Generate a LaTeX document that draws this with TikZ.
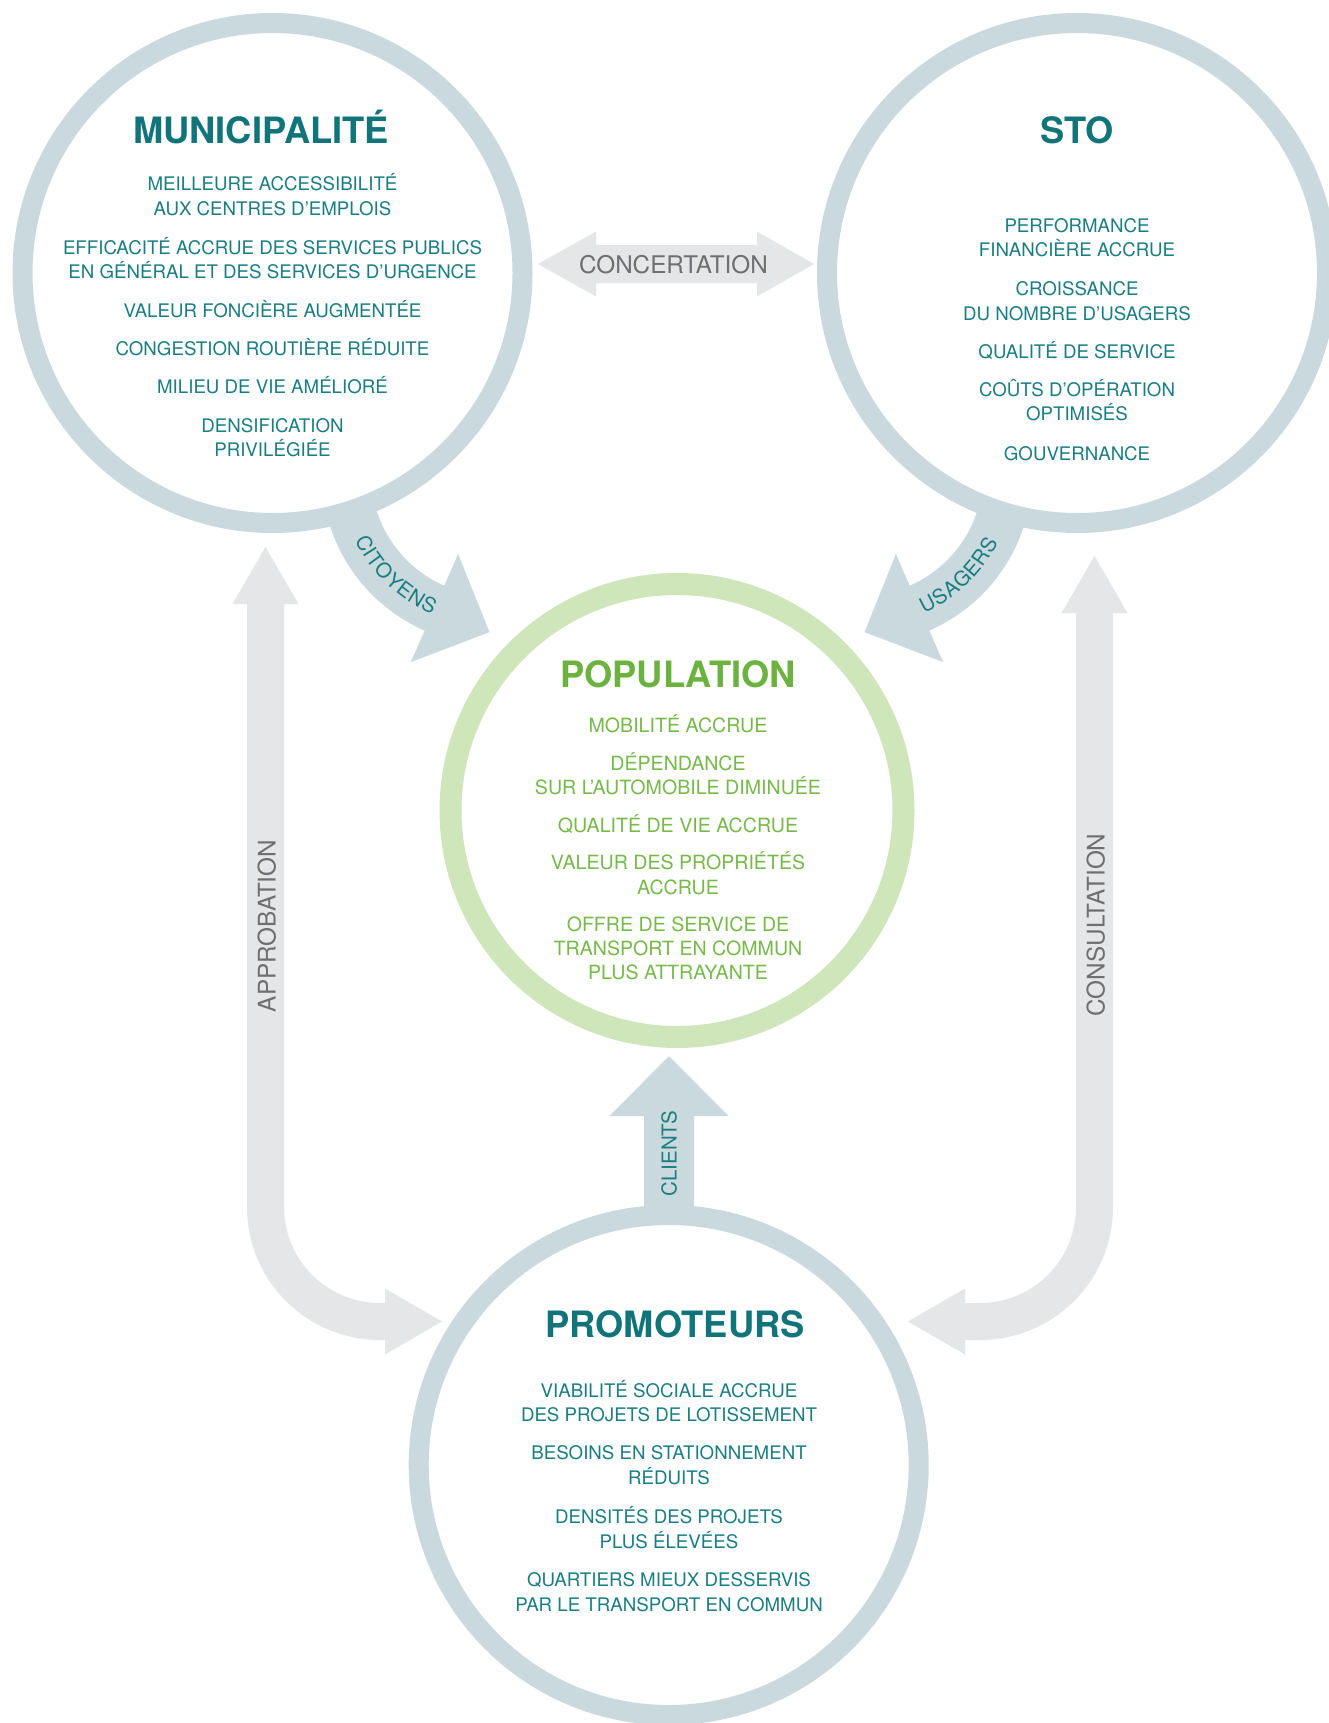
\documentclass[tikz,border=0pt]{standalone}
\usepackage{fontspec}
\setmainfont{TeX Gyre Heros}
\usetikzlibrary{decorations.text}
\definecolor{ringblue}{RGB}{201,217,222}
\definecolor{ringgreen}{RGB}{207,229,186}
\definecolor{arrowgray}{RGB}{229,230,232}
\definecolor{labelgray}{RGB}{110,111,114}
\definecolor{tealdark}{RGB}{16,116,121}
\definecolor{tealtext}{RGB}{26,125,130}
\definecolor{greentitle}{RGB}{108,178,64}
\definecolor{greentext}{RGB}{118,185,74}
\newcommand\lblfont{\fontsize{20.5}{20.5}\selectfont}
\tikzset{
  ring/.style={circle, draw=ringblue, line width=20pt, inner sep=0pt, minimum size=500pt},
  ttl/.style={anchor=base, inner sep=0pt, font=\fontsize{36.3}{36.3}\selectfont\bfseries, text=tealdark},
  body/.style={anchor=base, inner sep=0pt, font=\fontsize{18.7}{18.7}\selectfont, text=tealtext},
  popbody/.style={anchor=base, inner sep=0pt, font=\fontsize{19.6}{19.6}\selectfont, text=greentext},
  graylbl/.style={anchor=base, inner sep=0pt, font=\fontsize{24.3}{24.3}\selectfont, text=labelgray},
  teallbl/.style={anchor=base, inner sep=0pt, font=\lblfont, text=tealtext},
  grayarrow/.style={fill=arrowgray},
  bluearrow/.style={fill=ringblue},
}
\begin{document}
\begin{tikzpicture}[x=1pt,y=-1pt]
\useasboundingbox[fill=white] (0,0) rectangle (1328,1723);

% ---------- grey arrows ----------
% concertation
\fill[grayarrow] (538,264) -- (596,231.5) -- (596,245) -- (757,245) -- (757,231.5)
  -- (814,264) -- (757,296.5) -- (757,283) -- (596,283) -- (596,296.5) -- cycle;
% approbation
\fill[grayarrow] (265.5,547) -- (298.5,604) -- (284,604) -- (284,1207)
  arc[start angle=180, end angle=90, radius=96] -- (385,1303) -- (385,1288.5)
  -- (442,1321.5) -- (385,1354.5) -- (385,1340) -- (380,1340)
  arc[start angle=90, end angle=180, radius=133] -- (247,604) -- (232.5,604) -- cycle;
% consultation
\fill[grayarrow] (1094.5,556) -- (1127.5,613) -- (1113,613) -- (1113,1207)
  arc[start angle=0, end angle=90, radius=133] -- (965,1340) -- (965,1354.5)
  -- (908,1321.5) -- (965,1288.5) -- (965,1303) -- (980,1303)
  arc[start angle=90, end angle=0, radius=96] -- (1076,613) -- (1061.5,613) -- cycle;

% ---------- blue arrows ----------
\coordinate (cit) at (493.3,473.4);
\coordinate (usa) at (860.7,473.4);
\draw[ringblue, line width=49pt] (cit) ++(167:147) arc[start angle=167, end angle=112, radius=147];
\fill[bluearrow] (458.1,554) -- (489.5,632.1) -- (410.9,662.1) -- cycle;
\draw[ringblue, line width=49pt] (usa) ++(13:147) arc[start angle=13, end angle=68, radius=147];
\fill[bluearrow] (895.9,554) -- (864.5,632.1) -- (943.1,662.1) -- cycle;
% clients
\fill[bluearrow] (669,1056) -- (728.5,1116) -- (694,1116) -- (694,1215) -- (644,1215)
  -- (644,1116) -- (609.5,1116) -- cycle;

% ---------- rings ----------
\node[ring] (mun) at (272.5,273) {};
\node[ring] (sto) at (1077,273) {};
\node[ring] (pro) at (668.7,1465) {};
\node[ring, draw=ringgreen, line width=22pt, minimum size=453pt] (pop) at (677,810.5) {};

% ---------- labels on arrows ----------
\node[graylbl] (concert) at (673.5,273.5) {CONCERTATION};
\node[graylbl, rotate=90] (approb) at (275.5,926) {APPROBATION};
\node[graylbl, rotate=90] (consult) at (1104.5,925) {CONSULTATION};
\node[teallbl, rotate=90] (clients) at (676.5,1153.5) {CLIENTS};
\path[decorate, decoration={text along path, text align=center, raise=-7.3pt,
  text color=tealtext, text={|\lblfont|CITOYENS}}]
  (cit) ++(162:146.5) arc[start angle=162, end angle=105.6, radius=146.5];
\path[decorate, decoration={text along path, text align=center, raise=-7.3pt,
  text color=tealtext, text={|\lblfont|USAGERS}}]
  (usa) ++(74.4:146.5) arc[start angle=74.4, end angle=18, radius=146.5];

% ---------- MUNICIPALITE ----------
\node[ttl] (muntitle) at (261,144) {MUNICIPALITÉ};
\foreach \txt/\yy [count=\i] in {
  {MEILLEURE ACCESSIBILITÉ}/191,
  {AUX CENTRES D’EMPLOIS}/215,
  {EFFICACITÉ ACCRUE DES SERVICES PUBLICS}/254,
  {EN GÉNÉRAL ET DES SERVICES D’URGENCE}/278,
  {VALEUR FONCIÈRE AUGMENTÉE}/317.5,
  {CONGESTION ROUTIÈRE RÉDUITE}/355.5,
  {MILIEU DE VIE AMÉLIORÉ}/393.5,
  {DENSIFICATION}/432.5,
  {PRIVILÉGIÉE}/456.5}
  \node[body] (mun\i) at (272.5,\yy) {\txt};

% ---------- STO ----------
\node[ttl] (stotitle) at (1077,144) {STO};
\foreach \txt/\yy [count=\i] in {
  {PERFORMANCE}/232.5,
  {FINANCIÈRE ACCRUE}/256.5,
  {CROISSANCE}/295.5,
  {DU NOMBRE D’USAGERS}/320,
  {QUALITÉ DE SERVICE}/358.5,
  {COÛTS D’OPÉRATION}/396.5,
  {OPTIMISÉS}/420.5,
  {GOUVERNANCE}/460}
  \node[body] (sto\i) at (1077,\yy) {\txt};

% ---------- POPULATION ----------
\node[ttl, text=greentitle] (poptitle) at (678,687) {POPULATION};
\foreach \txt/\yy [count=\i] in {
  {MOBILITÉ ACCRUE}/732.5,
  {DÉPENDANCE}/770.5,
  {SUR L’AUTOMOBILE DIMINUÉE}/794.5,
  {QUALITÉ DE VIE ACCRUE}/832.5,
  {VALEUR DES PROPRIÉTÉS}/869.5,
  {ACCRUE}/894,
  {OFFRE DE SERVICE DE}/931.5,
  {TRANSPORT EN COMMUN}/955.5,
  {PLUS ATTRAYANTE}/979.5}
  \node[popbody] (pop\i) at (678,\yy) {\txt};

% ---------- PROMOTEURS ----------
\node[ttl] (protitle) at (675,1337.5) {PROMOTEURS};
\foreach \txt/\yy [count=\i] in {
  {VIABILITÉ SOCIALE ACCRUE}/1397,
  {DES PROJETS DE LOTISSEMENT}/1421,
  {BESOINS EN STATIONNEMENT}/1459.6,
  {RÉDUITS}/1484,
  {DENSITÉS DES PROJETS}/1523,
  {PLUS ÉLEVÉES}/1548,
  {QUARTIERS MIEUX DESSERVIS}/1586.5,
  {PAR LE TRANSPORT EN COMMUN}/1611.7}
  \node[body] (pro\i) at (669,\yy) {\txt};
\end{tikzpicture}
\end{document}
